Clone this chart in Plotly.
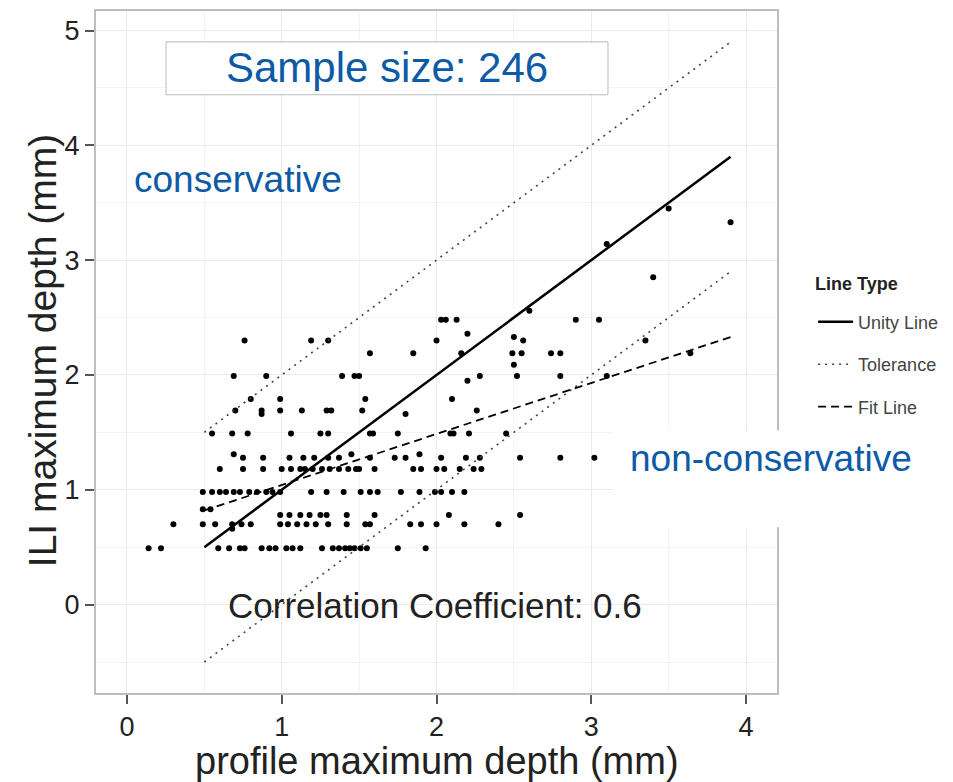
import plotly.graph_objects as go

# ---------------- data ----------------
profile_depth = [
    # ~0.5 mm ILI
    0.14, 0.22, 0.59, 0.66, 0.73, 0.76, 0.87, 0.92, 0.96, 1.03, 1.07, 1.12, 1.26, 1.33, 1.37, 1.41, 1.44, 1.47, 1.51, 1.55, 1.75, 1.93,
    0.68,
    # ~0.7
    0.30, 0.49, 0.57, 0.68, 0.74, 0.80, 0.99, 1.04, 1.10, 1.16, 1.22, 1.30, 1.42, 1.54, 1.57, 1.83, 1.90, 2.00, 2.18, 2.40,
    # ~0.78
    0.99, 1.05, 1.12, 1.18, 1.25, 1.29, 1.42, 1.60, 2.08, 2.54,
    0.49, 0.54,
    # ~1.0
    0.49, 0.55, 0.60, 0.64, 0.69, 0.73, 0.79, 0.84, 0.90, 0.94, 0.99, 1.19, 1.29, 1.40, 1.51, 1.57, 1.62, 1.77, 1.89, 1.99, 2.03, 2.10, 2.18,
    # ~1.18
    0.60, 0.75, 0.88, 1.00, 1.06, 1.12, 1.15, 1.20, 1.26, 1.31, 1.37, 1.43, 1.48, 1.50, 1.60, 1.85, 1.90, 2.00, 2.05, 2.15, 2.24, 2.29,
    # ~1.28
    0.75, 0.88, 1.05, 1.14, 1.21, 1.30, 1.37, 1.57, 1.73, 1.80, 2.03, 2.19, 2.28, 2.54, 2.80, 3.02,
    0.69, 1.45, 1.89,
    # ~1.5
    0.55, 0.68, 0.78, 1.06, 1.25, 1.30, 1.57, 1.59, 1.75, 2.09, 2.11, 2.21, 2.45,
    # ~1.7
    0.70, 0.87, 0.99, 1.13, 1.29, 1.32, 1.52, 2.26,
    0.87, 1.80,
    # ~1.8
    0.80, 0.99, 1.54, 2.10,
    # ~2.0
    0.69, 0.90, 1.39, 1.47, 1.50, 2.28, 2.52, 2.80, 3.10,
    2.20, 2.50,
    # ~2.2
    1.57, 1.85, 2.16, 2.49, 2.55, 2.74, 2.80, 3.64,
    # ~2.3
    0.76, 1.19, 1.30, 2.00, 2.56, 3.35,
    2.50, 2.20,
    # ~2.5 and above
    2.03, 2.06, 2.13, 2.90, 3.05,
    2.60, 3.40, 3.10, 3.50, 3.90,
]
ili_depth = (
    [0.49] * 22 + [0.66] +
    [0.70] * 20 +
    [0.78] * 10 +
    [0.83] * 2 +
    [0.98] * 23 +
    [1.18] * 22 +
    [1.28] * 16 +
    [1.31] * 3 +
    [1.49] * 13 +
    [1.69] * 8 +
    [1.66] * 2 +
    [1.79] * 4 +
    [1.99] * 9 +
    [1.95, 2.09] +
    [2.19] * 8 +
    [2.30] * 6 +
    [2.33, 2.36] +
    [2.48] * 5 +
    [2.56, 2.85, 3.14, 3.45, 3.33]
)

line_x = [0.5, 3.9]
unity_y = [0.5, 3.9]
tol_upper_y = [1.5, 4.9]
tol_lower_y = [-0.5, 2.9]
fit_y = [0.82, 2.33]

x_ticks = [0, 1, 2, 3, 4]
y_ticks = [0, 1, 2, 3, 4, 5]

FONT = "Liberation Sans, Arial, sans-serif"
BLUE = "#0D5AA7"

fig = go.Figure()

fig.add_trace(go.Scatter(
    x=profile_depth, y=ili_depth, mode="markers",
    marker=dict(size=6, color="black"), showlegend=False, hoverinfo="x+y"))

fig.add_trace(go.Scatter(
    x=line_x, y=unity_y, mode="lines", name="Unity Line",
    line=dict(color="black", width=2.5), legendgroup="u"))
fig.add_trace(go.Scatter(
    x=line_x, y=tol_upper_y, mode="lines", name="Tolerance",
    line=dict(color="#444444", width=1.6, dash="2px,5px"), legendgroup="t"))
fig.add_trace(go.Scatter(
    x=line_x, y=tol_lower_y, mode="lines", name="Tolerance",
    line=dict(color="#444444", width=1.6, dash="2px,5px"), legendgroup="t",
    showlegend=False))
fig.add_trace(go.Scatter(
    x=line_x, y=fit_y, mode="lines", name="Fit Line",
    line=dict(color="black", width=1.8, dash="8px,5px"), legendgroup="f"))

axis_common = dict(
    ticks="outside", ticklen=9, tickwidth=1.5, tickcolor="#555555",
    tickfont=dict(family=FONT, size=27, color="#222222"),
    showgrid=True, gridcolor="#EBEBEB", gridwidth=1.3,
    zeroline=False, showline=True, mirror=True,
    linecolor="#BDBDBD", linewidth=2,
)

fig.update_layout(
    width=953, height=782,
    margin=dict(l=96, r=176, t=9, b=89, pad=0),
    paper_bgcolor="white", plot_bgcolor="white",
    font=dict(family=FONT),
    xaxis=dict(range=[-0.2, 4.2], tickvals=x_ticks,
               minor=dict(tickvals=[0.5, 1.5, 2.5, 3.5], showgrid=True,
                          gridcolor="#F4F4F4", gridwidth=1, ticks=""),
               **axis_common),
    yaxis=dict(range=[-0.77, 5.17], tickvals=y_ticks,
               minor=dict(tickvals=[-0.5, 0.5, 1.5, 2.5, 3.5, 4.5], showgrid=True,
                          gridcolor="#F4F4F4", gridwidth=1, ticks=""),
               **axis_common),
    legend=dict(x=1.053, xanchor="left", y=0.571, yanchor="top",
                font=dict(family=FONT, size=18, color="#444444"),
                traceorder="grouped", tracegroupgap=16,
                bgcolor="rgba(0,0,0,0)", itemwidth=35),
    shapes=[
        dict(type="rect", xref="paper", yref="paper",
             x0=0.1028, x1=0.7518, y0=0.8772, y1=0.9547,
             fillcolor="white", line=dict(color="#BBBBBB", width=1), layer="above"),
        dict(type="rect", xref="paper", yref="paper",
             x0=0.759, x1=1.26, y0=0.243, y1=0.385,
             fillcolor="white", line=dict(width=0), layer="above"),
    ],
    annotations=[
        dict(text="<b>Line Type</b>", xref="paper", yref="paper",
             x=(813 - 96) / 681, y=(693 - 283) / 684, xanchor="left", yanchor="middle",
             showarrow=False, font=dict(family=FONT, size=18, color="#222222")),
        dict(text="Sample size: 246", xref="paper", yref="paper",
             x=0.4266, y=0.9167, xanchor="center", yanchor="middle",
             showarrow=False, font=dict(family=FONT, size=42, color=BLUE)),
        dict(text="conservative", xref="paper", yref="paper",
             x=0.0529, y=0.7529, xanchor="left", yanchor="middle",
             showarrow=False, font=dict(family=FONT, size=37, color=BLUE)),
        dict(text="non-conservative", xref="paper", yref="paper",
             x=0.7812, y=0.3436, xanchor="left", yanchor="middle",
             showarrow=False, font=dict(family=FONT, size=37, color=BLUE)),
        dict(text="Correlation Coefficient: 0.6", xref="paper", yref="paper",
             x=0.1909, y=0.1287, xanchor="left", yanchor="middle",
             showarrow=False, font=dict(family=FONT, size=35, color="#222222")),
        dict(text="profile maximum depth (mm)", xref="paper", yref="paper",
             x=0.5, y=-0.1, xanchor="center", yanchor="middle",
             showarrow=False, font=dict(family=FONT, size=38, color="#222222")),
        dict(text="ILI maximum depth (mm)", xref="paper", yref="paper",
             x=-0.0775, y=0.5015, xanchor="center", yanchor="middle", textangle=-90,
             showarrow=False, font=dict(family=FONT, size=39, color="#222222")),
    ],
)

fig.write_html("out.html")
